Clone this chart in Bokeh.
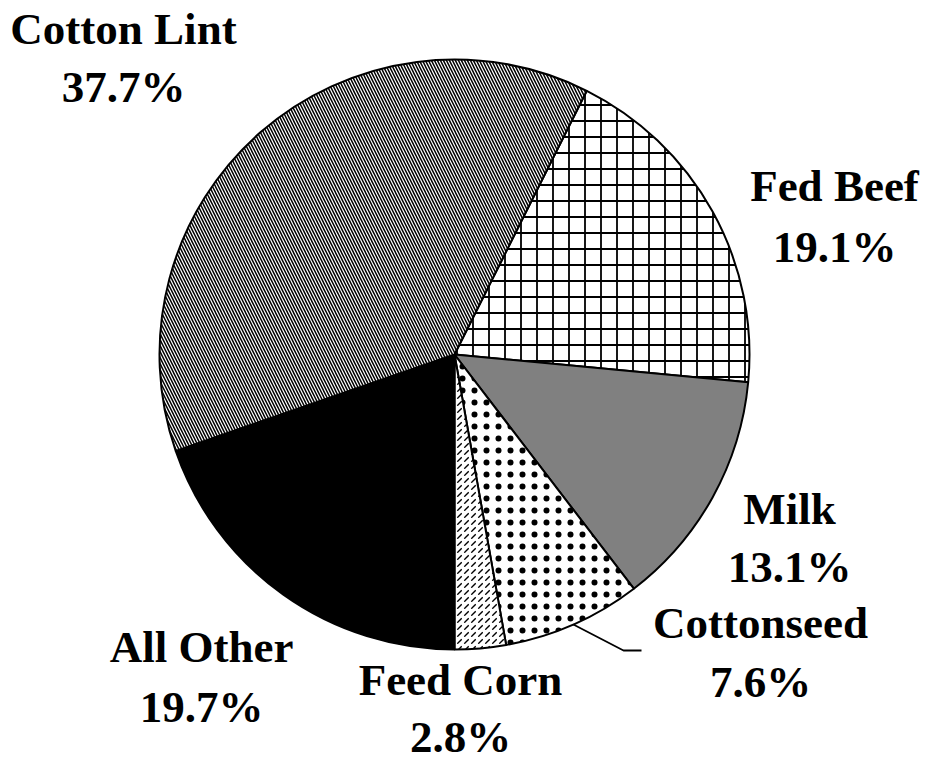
import math
from bokeh.plotting import figure
from bokeh.models import Range1d, ColumnDataSource
from bokeh.core.properties import value
from bokeh.embed import file_html
from bokeh.resources import INLINE

# ---- data ----
categories = ["Fed Beef", "Milk", "Cottonseed", "Feed Corn", "All Other", "Cotton Lint"]
shares = [19.1, 13.1, 7.6, 2.8, 19.7, 37.7]

# ---- styles ----
fills = ["white", "#808080", "white", "white", "black", "white"]
hatches = ["+", " ", ".", ",", " ", "\\"]
hatch_scales = [16, 1, 12, 7, 1, 6]
hatch_weights = [1.8, 1, 0.8, 1.3, 1, 1.5]

W, H = 934, 760


def py(y):
    return H - y


cx, cy, r = 454, py(354), 295
# boundary between Feed Corn and All Other sits at the bottom (180 deg clockwise from top)
total = sum(shares)
cum_before_allother = sum(shares[:4])
offset_deg = 180 - cum_before_allother / total * 360

starts, ends = [], []
acc = 0.0
for s in shares:
    a0 = offset_deg + acc / total * 360
    acc += s
    a1 = offset_deg + acc / total * 360
    starts.append(math.radians(90 - a0))
    ends.append(math.radians(90 - a1))

p = figure(width=W, height=H, output_backend="svg", toolbar_location=None,
           x_range=Range1d(0, W), y_range=Range1d(0, H),
           min_border=0, background_fill_color="white", border_fill_color="white")
p.axis.visible = False
p.grid.visible = False
p.outline_line_color = None

for i in range(len(shares)):
    kw = dict(x=cx, y=cy, radius=r, start_angle=starts[i], end_angle=ends[i],
              direction="clock", fill_color=fills[i], line_color="black", line_width=2)
    if hatches[i] != " ":
        kw.update(hatch_pattern=hatches[i], hatch_scale=hatch_scales[i],
                  hatch_weight=hatch_weights[i], hatch_color="black")
    p.wedge(**kw)

# leader line for Cottonseed
ci = categories.index("Cottonseed")
mid = (starts[ci] + ends[ci]) / 2
lx0, ly0 = cx + r * math.cos(mid), cy + r * math.sin(mid)
p.line([lx0, 623, 641], [ly0, py(650), py(650)], line_color="black", line_width=1.8)

# labels: (center x, baseline of first line, baseline of second line) in page px
label_pos = {
    "Cotton Lint": (123, 42, 100),
    "Fed Beef": (834, 199, 260),
    "Milk": (789, 522, 580),
    "Cottonseed": (760, 636, 695),
    "Feed Corn": (460, 693, 750),
    "All Other": (201, 660, 720),
}
BASE_FIX = 14  # renderer draws "alphabetic" text this much lower
xs, ys, ts = [], [], []
for name, sh in zip(categories, shares):
    x, b1, b2 = label_pos[name]
    xs += [x, x]
    ys += [py(b1 - BASE_FIX), py(b2 - BASE_FIX)]
    ts += [name, f"{sh:.1f}%"]

src = ColumnDataSource(dict(x=xs, y=ys, t=ts))
p.text(x="x", y="y", text="t", source=src, text_font=value("Liberation Serif"),
       text_font_style="bold", text_font_size="45px", text_align="center",
       text_baseline="alphabetic", text_color="black")

open("out.html", "w").write(file_html(p, INLINE))
